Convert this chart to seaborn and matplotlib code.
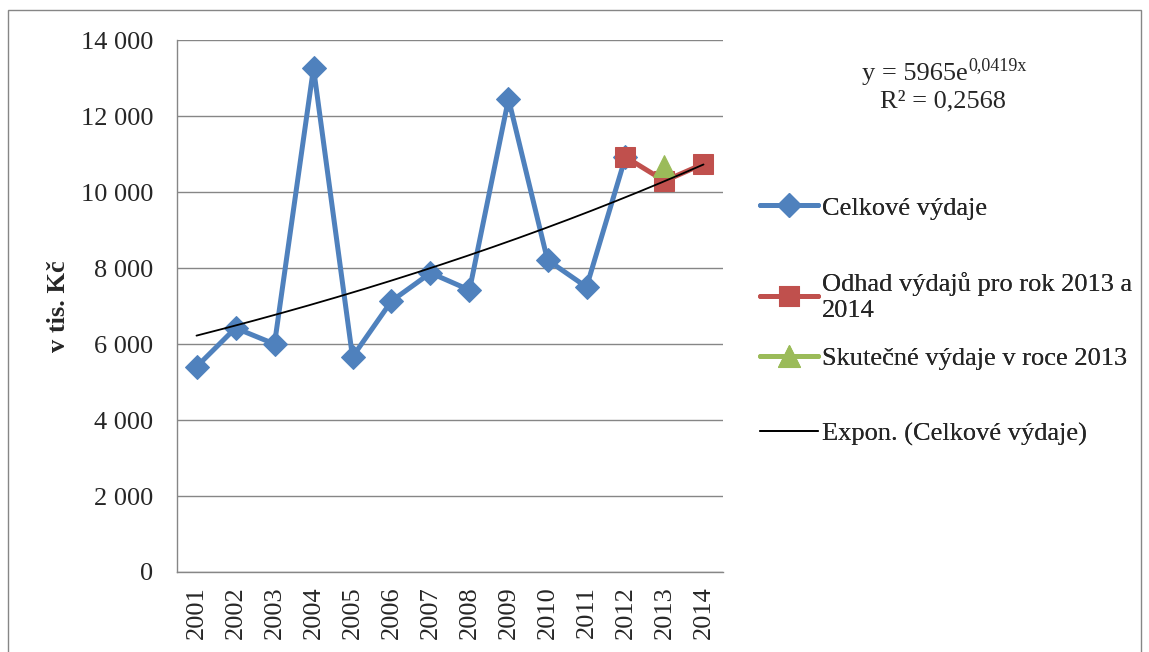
import numpy as np
import pandas as pd
import matplotlib
matplotlib.use("Agg")
import matplotlib.pyplot as plt
import seaborn as sns
from matplotlib.patches import Rectangle
from matplotlib.ticker import FuncFormatter, FixedLocator

# Data (v tis. Kč)
years = ["2001", "2002", "2003", "2004", "2005", "2006", "2007",
         "2008", "2009", "2010", "2011", "2012", "2013", "2014"]
celkove = [5400, 6420, 6000, 13260, 5660, 7130, 7870, 7420, 12450, 8210, 7500, 10920]
odhad_years = ["2012", "2013", "2014"]
odhad = [10920, 10290, 10740]
skutecne_years = ["2013"]
skutecne = [10690]
# exponential trendline shown in the chart: y = a * e^(b*x), x = 1..14
trend_a = 5965
trend_b = 0.0419

sns.set_style("white")
plt.rcParams['font.family'] = ['Liberation Serif', 'DejaVu Serif']

BLUE = '#4F81BD'
RED = '#C0504D'
GREEN = '#9BBB59'
GRID = '#868686'
FS = 19

pos = {y: i + 1 for i, y in enumerate(years)}
df_c = pd.DataFrame({'x': [pos[y] for y in years[:len(celkove)]], 'y': celkove})
df_o = pd.DataFrame({'x': [pos[y] for y in odhad_years], 'y': odhad})
df_s = pd.DataFrame({'x': [pos[y] for y in skutecne_years], 'y': skutecne})
tx = np.linspace(1, len(years), 200)
df_t = pd.DataFrame({'x': tx, 'y': trend_a * np.exp(trend_b * tx)})

fig = plt.figure(figsize=(11.49, 6.52), dpi=100)
ax = fig.add_axes([177 / 1149, 1 - 572 / 652, (723 - 177) / 1149, (572 - 40) / 652])

sns.lineplot(data=df_c, x='x', y='y', ax=ax, color=BLUE, linewidth=3.6,
             marker='D', markersize=12.5, markeredgecolor=BLUE, label='Celkové výdaje', legend=False)
sns.lineplot(data=df_o, x='x', y='y', ax=ax, color=RED, linewidth=3.6,
             marker='s', markersize=15, markeredgecolor=RED, label='Odhad výdajů pro rok 2013 a\n2014', legend=False)
sns.lineplot(data=df_s, x='x', y='y', ax=ax, color=GREEN, linewidth=3.6,
             marker='^', markersize=16, markeredgecolor=GREEN, label='Skutečné výdaje v roce 2013', legend=False)
sns.lineplot(data=df_t, x='x', y='y', ax=ax, color='black', linewidth=1.3,
             label='Expon. (Celkové výdaje)', legend=False)

ax.set_xlim(0.5, len(years) + 0.5)
ax.set_ylim(0, 14000)
ax.set_yticks(np.arange(0, 14001, 2000))
ax.yaxis.set_major_formatter(FuncFormatter(lambda v, p: f"{v:,.0f}".replace(",", " ")))
ax.set_xticks(range(1, len(years) + 1))
ax.set_xticklabels(years, rotation=90)
ax.xaxis.set_minor_locator(FixedLocator(np.arange(0.5, len(years) + 1, 1)))
ax.tick_params(axis='x', which='major', length=0, pad=10, labelsize=FS)
ax.tick_params(axis='x', which='minor', length=6, width=1, color=GRID, direction='out')
ax.tick_params(axis='y', length=6, width=1, color=GRID, direction='out', pad=11, labelsize=FS)
ax.grid(axis='y', color=GRID, linewidth=1)
ax.set_axisbelow(True)
for s in ['top', 'right']:
    ax.spines[s].set_visible(False)
for s in ['left', 'bottom']:
    ax.spines[s].set_color(GRID)
    ax.spines[s].set_linewidth(1)
ax.set_xlabel('')
ax.set_ylabel('v tis. Kč', fontsize=FS, fontweight='bold', labelpad=8)

# legend entries placed like the Excel legend
handles, labels = ax.get_legend_handles_labels()
legend_y = [208, 297, 358, 434]
for h, l, yy in zip(handles, labels, legend_y):
    lg = fig.legend([h], [l], loc='center left', bbox_to_anchor=(760 / 1149, 1 - yy / 652),
                    frameon=False, fontsize=FS, handlelength=2.2, handletextpad=0.15,
                    borderpad=0, borderaxespad=0)
    fig.add_artist(lg)

# trendline equation
fig.text(968 / 1149, 1 - 74 / 652, "y = 5965e", ha='right', va='center', fontsize=FS)
fig.text(968 / 1149, 1 - 66 / 652, "0,0419x", ha='left', va='center', fontsize=13)
fig.text(943 / 1149, 1 - 101 / 652, "R² = 0,2568", ha='center', va='center', fontsize=FS)

# chart area border
fig.add_artist(Rectangle((8 / 1149, -0.05), (1141 - 8) / 1149, 1.05 - 10 / 652,
                         transform=fig.transFigure, fill=False, edgecolor=GRID, linewidth=1))

fig.savefig('out.png', dpi=100)
